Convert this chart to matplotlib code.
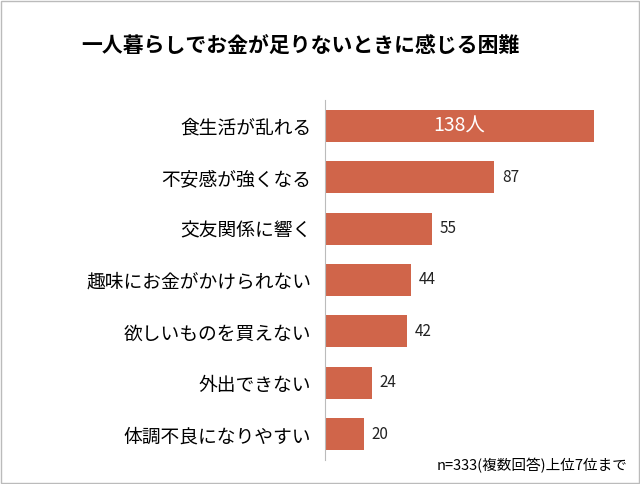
import matplotlib
matplotlib.use("Agg")
import matplotlib.pyplot as plt
from matplotlib.patches import Rectangle

plt.rcParams["font.family"] = "Noto Sans CJK JP"

categories = ["食生活が乱れる", "不安感が強くなる", "交友関係に響く", "趣味にお金がかけられない",
              "欲しいものを買えない", "外出できない", "体調不良になりやすい"]
values = [138, 87, 55, 44, 42, 24, 20]
labels = ["138人", "87", "55", "44", "42", "24", "20"]

fig = plt.figure(figsize=(6.4, 4.84), dpi=100)
fig.patches.append(Rectangle((0.002, 0.002), 0.996, 0.996, transform=fig.transFigure,
                             fill=False, edgecolor="#bbbbbb", lw=1))
ax = fig.add_axes([325/640, 1-460/484, 292/640, 360/484])
color = "#D0654A"
y = list(range(len(categories)))
ax.barh(y, values, height=0.62, color=color)
ax.set_ylim(len(categories)-0.5, -0.5)
ax.set_xlim(0, 150)
ax.set_yticks(y)
ax.set_yticklabels(categories, fontsize=13.5)
ax.tick_params(axis="y", length=0, pad=10)
ax.set_xticks([])
for s in ["top", "right", "bottom"]:
    ax.spines[s].set_visible(False)
ax.spines["left"].set_color("#bbbbbb")
for i, (v, t) in enumerate(zip(values, labels)):
    if i == 0:
        ax.text(v/2, i, t, ha="center", va="center", color="white", fontsize=14)
    else:
        ax.text(v + 4, i, t, ha="left", va="center", color="#222222", fontsize=11)
fig.text(300/640, 1-46/484, "一人暮らしでお金が足りないときに感じる困難", ha="center", va="center",
         fontsize=15, fontweight="bold")
fig.text(628/640, 1-466/484, "n=333(複数回答)上位7位まで", ha="right", va="center", fontsize=10.5)
fig.savefig("out.png", dpi=100)
